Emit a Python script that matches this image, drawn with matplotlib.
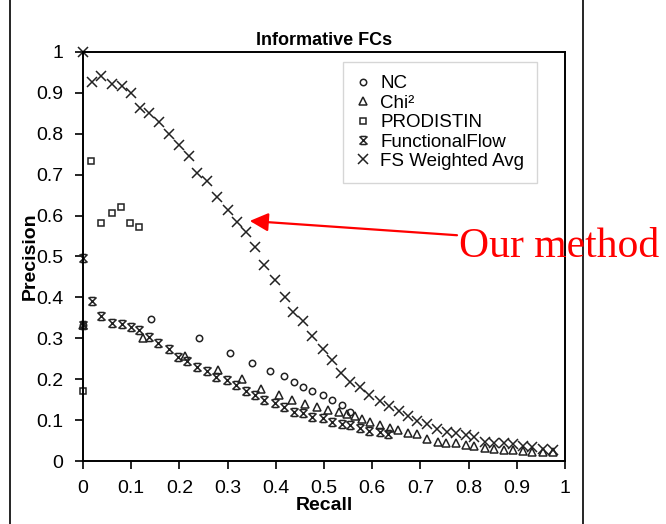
import matplotlib
matplotlib.use("Agg")
import matplotlib.pyplot as plt
from matplotlib.path import Path
from matplotlib.patches import Rectangle
from matplotlib.ticker import FuncFormatter

# values
fs_recall = [0.0, 0.018, 0.037, 0.06, 0.08, 0.099, 0.118, 0.138, 0.157, 0.179, 0.199,
             0.219, 0.237, 0.257, 0.279, 0.3, 0.319, 0.338, 0.357, 0.375, 0.398,
             0.419, 0.436, 0.457, 0.476, 0.497, 0.517, 0.536, 0.555, 0.575, 0.594,
             0.616, 0.635, 0.656, 0.675, 0.694, 0.713, 0.735, 0.755, 0.774, 0.794,
             0.811, 0.834, 0.853, 0.873, 0.893, 0.913, 0.932, 0.955, 0.976]
fs_precision = [1.0, 0.927, 0.941, 0.922, 0.918, 0.900, 0.862, 0.850, 0.828, 0.800, 0.773,
                0.746, 0.705, 0.685, 0.646, 0.614, 0.584, 0.560, 0.524, 0.479, 0.443,
                0.402, 0.365, 0.343, 0.306, 0.274, 0.247, 0.216, 0.193, 0.180, 0.161,
                0.147, 0.135, 0.123, 0.111, 0.099, 0.090, 0.078, 0.072, 0.068, 0.063,
                0.058, 0.047, 0.045, 0.043, 0.041, 0.037, 0.035, 0.029, 0.027]

ff_recall = [0.0, 0.0, 0.019, 0.037, 0.06, 0.08, 0.099, 0.117, 0.138, 0.156, 0.178,
             0.198, 0.216, 0.237, 0.257, 0.277, 0.298, 0.317, 0.338, 0.357, 0.376,
             0.398, 0.418, 0.438, 0.457, 0.476, 0.497, 0.517, 0.537, 0.555, 0.575,
             0.594, 0.616, 0.633]
ff_precision = [0.496, 0.333, 0.392, 0.355, 0.337, 0.334, 0.328, 0.320, 0.302, 0.288, 0.274,
                0.254, 0.245, 0.229, 0.221, 0.206, 0.198, 0.186, 0.172, 0.161, 0.149,
                0.143, 0.133, 0.121, 0.118, 0.108, 0.104, 0.096, 0.090, 0.088, 0.080,
                0.073, 0.072, 0.065]

chi_recall = [0.0, 0.125, 0.212, 0.28, 0.329, 0.37, 0.406, 0.434, 0.461, 0.486, 0.509,
              0.532, 0.548, 0.564, 0.578, 0.595, 0.616, 0.637, 0.654, 0.675, 0.694,
              0.714, 0.737, 0.754, 0.774, 0.794, 0.811, 0.834, 0.853, 0.873, 0.893,
              0.913, 0.932, 0.955, 0.976]
chi_precision = [0.333, 0.300, 0.257, 0.222, 0.200, 0.175, 0.162, 0.149, 0.139, 0.132, 0.125,
                 0.121, 0.116, 0.110, 0.102, 0.096, 0.088, 0.080, 0.077, 0.069, 0.066,
                 0.055, 0.047, 0.045, 0.043, 0.039, 0.037, 0.031, 0.029, 0.027, 0.027,
                 0.024, 0.023, 0.021, 0.021]

nc_recall = [0.0, 0.141, 0.241, 0.306, 0.351, 0.389, 0.418, 0.438, 0.457, 0.476, 0.499,
             0.517, 0.537, 0.555]
nc_precision = [0.333, 0.347, 0.301, 0.265, 0.239, 0.221, 0.208, 0.194, 0.182, 0.170, 0.161,
                0.149, 0.137, 0.121]

pro_recall = [0.0, 0.016, 0.037, 0.06, 0.079, 0.098, 0.116]
pro_precision = [0.171, 0.733, 0.581, 0.607, 0.622, 0.581, 0.573]

ticks = [0, 0.1, 0.2, 0.3, 0.4, 0.5, 0.6, 0.7, 0.8, 0.9, 1]

# hourglass-like marker (x with top and bottom bars)
star_path = Path(
    [(-1, -1), (1, 1), (-1, 1), (1, -1), (-0.7, 1), (0.7, 1), (-0.7, -1), (0.7, -1)],
    [Path.MOVETO, Path.LINETO] * 4,
)

plt.rcParams["font.family"] = ["Liberation Sans", "DejaVu Sans"]

fig = plt.figure(figsize=(6.66, 5.24), dpi=100)
ax = fig.add_axes([0.1246, 0.1202, 0.7237, 0.7806])

# outer frame of the pasted figure
fig.patches.append(Rectangle((10 / 666, -0.05), 573 / 666, 1.2, transform=fig.transFigure,
                             fill=False, edgecolor="black", linewidth=1.2))

common = dict(linestyle="none", color="#222222", markerfacecolor="none", markeredgewidth=1.1,
              clip_on=False)
ax.plot(nc_recall, nc_precision, marker="o", markersize=4.6, label="NC", **common)
ax.plot(chi_recall, chi_precision, marker="^", markersize=6, label="Chi²", **common)
ax.plot(pro_recall, pro_precision, marker="s", markersize=4.8, label="PRODISTIN", **common)
ax.plot(ff_recall, ff_precision, marker=star_path, markersize=5.8, label="FunctionalFlow", **common)
ax.plot(fs_recall, fs_precision, marker="x", markersize=6.5, label="FS Weighted Avg", **common)

ax.set_xlim(0, 1)
ax.set_ylim(0, 1)
ax.set_xticks(ticks)
ax.set_yticks(ticks)
fmt = FuncFormatter(lambda v, _: "%g" % round(v, 2))
ax.xaxis.set_major_formatter(fmt)
ax.yaxis.set_major_formatter(fmt)
ax.tick_params(direction="out", length=6, width=1.2, labelsize=14, colors="black", pad=8)
for s in ax.spines.values():
    s.set_linewidth(1.4)

ax.set_title("Informative FCs", fontsize=13, fontweight="bold", pad=5)
ax.set_xlabel("Recall", fontsize=14, fontweight="bold", labelpad=0)
ax.set_ylabel("Precision", fontsize=14, fontweight="bold", labelpad=-2)

leg = ax.legend(loc="upper left", bbox_to_anchor=(0.539, 0.975), borderaxespad=0,
                fontsize=13.5, frameon=True, fancybox=False, edgecolor="#cccccc",
                handlelength=0.8, handletextpad=0.5, borderpad=0.7, labelspacing=0.12)
leg.get_frame().set_linewidth(1.0)

# red annotation
ax.annotate("", xy=(0.346, 0.587), xytext=(0.776, 0.552), annotation_clip=False,
            arrowprops=dict(arrowstyle="-|>", color="red", lw=1.6, mutation_scale=28,
                            shrinkA=0, shrinkB=0))
fig.text(459 / 666, (524 - 257) / 524, "Our method", color="red", fontsize=30,
         family=["Liberation Serif", "DejaVu Serif"], ha="left", va="baseline")

fig.savefig("out.png", dpi=100)
